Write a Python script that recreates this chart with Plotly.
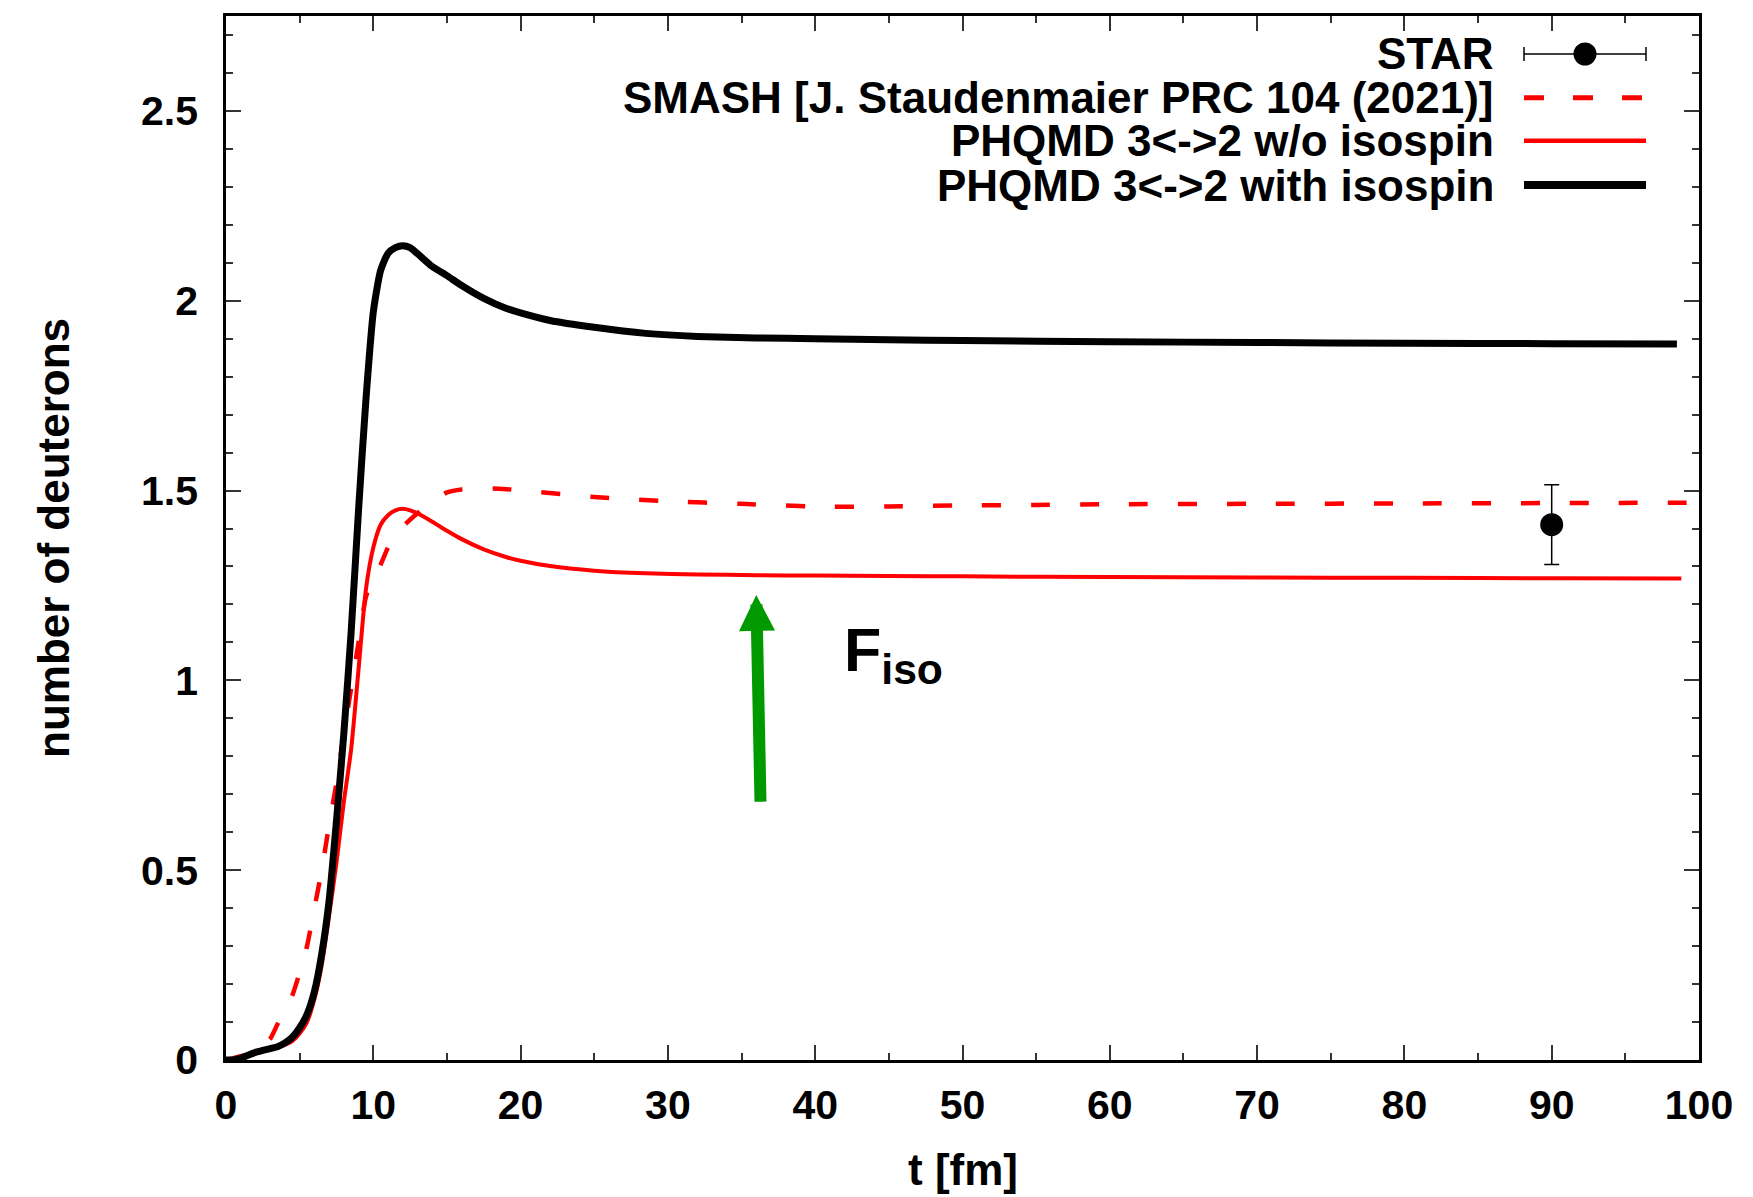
import plotly.graph_objects as go

# ---------------- data ----------------
t_with = [0, 0.5, 1, 2, 3, 3.5, 4, 4.5, 5, 5.5, 6, 6.5, 7, 7.5, 8, 8.5, 9, 9.5,
          10, 10.5, 11, 11.5, 12, 12.5, 13, 14, 15, 16, 17.5, 19, 20, 22, 25,
          28.5, 32, 36, 40, 45, 50, 60, 70, 80, 90, 98.5]
n_with = [0, 0.0, 0.005, 0.02, 0.03, 0.035, 0.045, 0.06, 0.085, 0.12, 0.18, 0.28,
          0.42, 0.63, 0.86, 1.13, 1.45, 1.74, 1.97, 2.08, 2.125, 2.14, 2.145,
          2.14, 2.124, 2.09, 2.066, 2.04, 2.006, 1.98, 1.968, 1.948, 1.93,
          1.914, 1.906, 1.902, 1.9, 1.897, 1.895, 1.892, 1.89, 1.888, 1.887, 1.886]

t_wo = [0, 0.5, 1, 2, 3, 3.5, 4, 4.5, 5, 5.5, 6, 6.5, 7, 7.5, 8, 8.5, 9, 9.5,
        10, 10.5, 11, 11.5, 12, 12.5, 13, 14, 15, 16, 17.5, 19, 20, 22, 25,
        28.5, 32, 36, 40, 45, 50, 60, 70, 80, 90, 98.8]
n_wo = [0, 0.0, 0.005, 0.018, 0.028, 0.033, 0.04, 0.05, 0.07, 0.1, 0.16, 0.25,
        0.38, 0.52, 0.68, 0.82, 1.03, 1.24, 1.35, 1.41, 1.435, 1.448, 1.452,
        1.448, 1.44, 1.418, 1.394, 1.372, 1.345, 1.325, 1.315, 1.301, 1.289,
        1.282, 1.279, 1.277, 1.276, 1.275, 1.274, 1.272, 1.271, 1.27, 1.269, 1.268]

t_smash = [0, 1, 2, 3, 3.5, 4, 4.5, 5, 5.5, 6, 6.5, 7, 7.5, 8, 8.5, 9, 9.5, 10,
           10.5, 11, 11.5, 12, 13, 14, 15, 16, 18.5, 21, 25, 30, 35, 40, 45, 50,
           55, 60, 70, 80, 90, 100]
n_smash = [0, 0.01, 0.025, 0.056, 0.095, 0.13, 0.17, 0.23, 0.3, 0.4, 0.5, 0.62,
           0.73, 0.86, 0.98, 1.1, 1.22, 1.27, 1.305, 1.35, 1.38, 1.405, 1.44,
           1.47, 1.495, 1.503, 1.505, 1.497, 1.483, 1.472, 1.465, 1.458, 1.458,
           1.461, 1.462, 1.464, 1.465, 1.466, 1.467, 1.468]

star_t = [90]
star_n = [1.41]
star_err = [0.105]

x_tickvals = [0, 10, 20, 30, 40, 50, 60, 70, 80, 90, 100]
y_tickvals = [0, 0.5, 1, 1.5, 2, 2.5]
y_ticktext = ["0", "0.5", "1", "1.5", "2", "2.5"]

legend_labels = ["STAR",
                 "SMASH [J. Staudenmaier PRC 104 (2021)]",
                 "PHQMD 3&lt;-&gt;2 w/o isospin",
                 "PHQMD 3&lt;-&gt;2 with isospin"]

arrow_tail = (36.3, 0.654)
arrow_tip = (36.0, 1.225)
fiso_pos = (41.8, 1.067)

# ---------------- style / layout constants ----------------
W, H = 1753, 1197
L, R, T, B = 226, 54, 16, 137
PW, PH = W - L - R, H - T - B
FONT = "Liberation Sans"
RED = "#ff0000"
GREEN = "#009a00"


def px(xpix):
    return (xpix - L) / PW


def py(ypix):
    return (H - B - ypix) / PH


fig = go.Figure()

fig.add_trace(go.Scatter(x=star_t, y=star_n, mode="markers",
                         marker=dict(size=23, color="black"),
                         error_y=dict(type="data", array=star_err, color="black",
                                      thickness=1.5, width=7.5),
                         showlegend=False))
fig.add_trace(go.Scatter(x=t_smash, y=n_smash, mode="lines",
                         line=dict(color=RED, width=4.5, dash="19px,30px",
                                   shape="spline", smoothing=0.6),
                         showlegend=False))
fig.add_trace(go.Scatter(x=t_wo, y=n_wo, mode="lines",
                         line=dict(color=RED, width=4, shape="spline", smoothing=0.6),
                         showlegend=False))
fig.add_trace(go.Scatter(x=t_with, y=n_with, mode="lines",
                         line=dict(color="black", width=7, shape="spline", smoothing=0.6),
                         showlegend=False))

axis_common = dict(showgrid=False, zeroline=False, showline=True, linecolor="black",
                   linewidth=2.5, mirror="allticks", ticks="inside", ticklen=15,
                   tickwidth=1.5, tickcolor="#333333",
                   tickfont=dict(family=FONT, size=41, color="black", weight="bold"))

fig.update_xaxes(range=[0, 100], tickvals=x_tickvals, ticklabelstandoff=7,
                 minor=dict(ticks="inside", ticklen=7, dtick=5, tickwidth=1.5,
                            tickcolor="#333333", showgrid=False),
                 **axis_common)
fig.update_yaxes(range=[0, 2.75], tickvals=y_tickvals, ticktext=y_ticktext,
                 ticklabelstandoff=17,
                 minor=dict(ticks="inside", ticklen=7, dtick=0.1, tickwidth=1.5,
                            tickcolor="#333333", showgrid=False),
                 **axis_common)

annotations = []
# axis titles
annotations.append(dict(text="number of deuterons", xref="paper", yref="paper",
                        x=px(53), y=0.5, textangle=-90, xanchor="center",
                        yanchor="middle", showarrow=False,
                        font=dict(family=FONT, size=44, color="black", weight="bold")))
annotations.append(dict(text="t [fm]", xref="paper", yref="paper",
                        x=0.5, y=py(1169), xanchor="center", yanchor="middle",
                        showarrow=False,
                        font=dict(family=FONT, size=44, color="black", weight="bold")))

# legend
row_y = [54, 97.7, 140.7, 185]
for lab, yy in zip(legend_labels, row_y):
    annotations.append(dict(text=lab, xref="paper", yref="paper", x=px(1496), y=py(yy),
                            xanchor="right", yanchor="middle", showarrow=False,
                            font=dict(family=FONT, size=44, color="black", weight="bold")))

# green arrow and F_iso label
annotations.append(dict(x=arrow_tip[0], y=arrow_tip[1], ax=arrow_tail[0], ay=arrow_tail[1],
                        xref="x", yref="y", axref="x", ayref="y", text=" ",
                        showarrow=True, arrowhead=2, arrowsize=0.6, arrowwidth=12,
                        arrowcolor=GREEN, standoff=0))
annotations.append(dict(x=fiso_pos[0], y=fiso_pos[1], xref="x", yref="y",
                        text="F<sub>iso</sub>", xanchor="left", yanchor="middle",
                        showarrow=False,
                        font=dict(family=FONT, size=61, color="black", weight="bold")))

shapes = []
x0, x1 = px(1524), px(1646)
# STAR legend key
shapes.append(dict(type="line", xref="paper", yref="paper", x0=x0, x1=x1,
                   y0=py(row_y[0]), y1=py(row_y[0]), line=dict(color="black", width=1.5)))
for xx in (1524, 1646):
    shapes.append(dict(type="line", xref="paper", yref="paper", x0=px(xx), x1=px(xx),
                       y0=py(row_y[0] - 7), y1=py(row_y[0] + 7),
                       line=dict(color="black", width=1.5)))
shapes.append(dict(type="circle", xref="paper", yref="paper",
                   x0=px(1585 - 11.5), x1=px(1585 + 11.5),
                   y0=py(row_y[0] + 11.5), y1=py(row_y[0] - 11.5),
                   fillcolor="black", line=dict(color="black", width=0)))
# SMASH key
shapes.append(dict(type="line", xref="paper", yref="paper", x0=x0, x1=x1,
                   y0=py(row_y[1]), y1=py(row_y[1]),
                   line=dict(color=RED, width=5, dash="20px,29px")))
# w/o key
shapes.append(dict(type="line", xref="paper", yref="paper", x0=x0, x1=x1,
                   y0=py(row_y[2]), y1=py(row_y[2]), line=dict(color=RED, width=4.5)))
# with key
shapes.append(dict(type="line", xref="paper", yref="paper", x0=x0, x1=x1,
                   y0=py(row_y[3]), y1=py(row_y[3]), line=dict(color="black", width=8)))

fig.update_layout(width=W, height=H, margin=dict(l=L, r=R, t=T, b=B),
                  paper_bgcolor="white", plot_bgcolor="white",
                  annotations=annotations, shapes=shapes, showlegend=False)

fig.write_html("out.html")
